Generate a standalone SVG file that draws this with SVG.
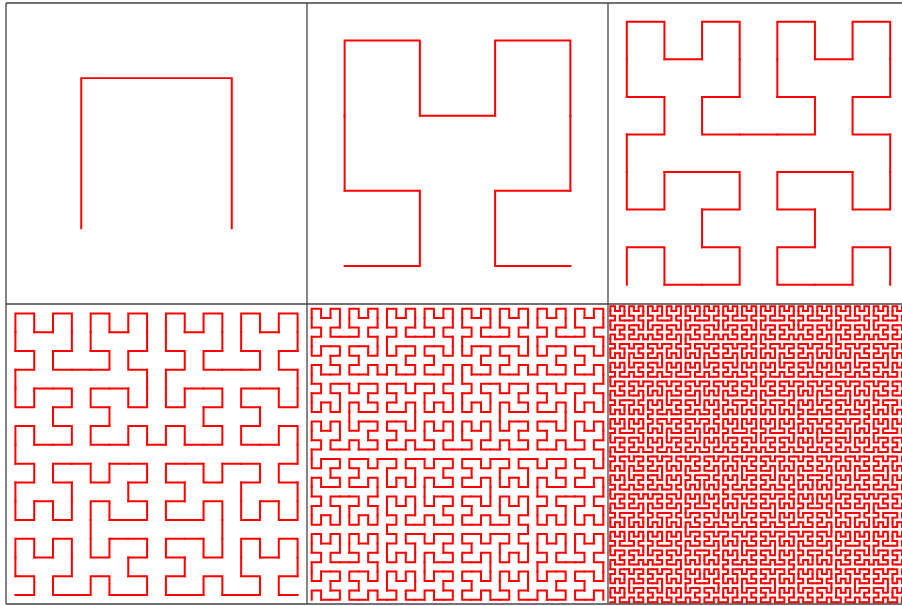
<svg xmlns="http://www.w3.org/2000/svg" xmlns:xlink="http://www.w3.org/1999/xlink" width="902" height="606" viewBox="0 0 902 606">
<style>
.curve{fill:none;stroke:#ff0000;stroke-linecap:square;stroke-linejoin:miter}
.frame{fill:none;stroke:#444444;stroke-width:1.3}
</style>
<defs>
<g id="h1"><path d="M0 1V0H1V1"/></g>
<g id="h2">
<use xlink:href="#h1" href="#h1" transform="matrix(0,-1,-1,0,1,3)"/>
<use xlink:href="#h1" href="#h1"/>
<use xlink:href="#h1" href="#h1" transform="translate(2,0)"/>
<use xlink:href="#h1" href="#h1" transform="matrix(0,1,1,0,2,2)"/>
<path d="M0 2V1M1 1H2M3 1V2"/>
</g>
<g id="h3">
<use xlink:href="#h2" href="#h2" transform="matrix(0,-1,-1,0,3,7)"/>
<use xlink:href="#h2" href="#h2"/>
<use xlink:href="#h2" href="#h2" transform="translate(4,0)"/>
<use xlink:href="#h2" href="#h2" transform="matrix(0,1,1,0,4,4)"/>
<path d="M0 4V3M3 3H4M7 3V4"/>
</g>
<g id="h4">
<use xlink:href="#h3" href="#h3" transform="matrix(0,-1,-1,0,7,15)"/>
<use xlink:href="#h3" href="#h3"/>
<use xlink:href="#h3" href="#h3" transform="translate(8,0)"/>
<use xlink:href="#h3" href="#h3" transform="matrix(0,1,1,0,8,8)"/>
<path d="M0 8V7M7 7H8M15 7V8"/>
</g>
<g id="h5">
<use xlink:href="#h4" href="#h4" transform="matrix(0,-1,-1,0,15,31)"/>
<use xlink:href="#h4" href="#h4"/>
<use xlink:href="#h4" href="#h4" transform="translate(16,0)"/>
<use xlink:href="#h4" href="#h4" transform="matrix(0,1,1,0,16,16)"/>
<path d="M0 16V15M15 15H16M31 15V16"/>
</g>
<g id="h6">
<use xlink:href="#h5" href="#h5" transform="matrix(0,-1,-1,0,31,63)"/>
<use xlink:href="#h5" href="#h5"/>
<use xlink:href="#h5" href="#h5" transform="translate(32,0)"/>
<use xlink:href="#h5" href="#h5" transform="matrix(0,1,1,0,32,32)"/>
<path d="M0 32V31M31 31H32M63 31V32"/>
</g>
</defs>
<rect width="902" height="606" fill="#ffffff"/>
<g id="panel-order1" class="curve" stroke-width="0.01329">
<use xlink:href="#h1" href="#h1" transform="translate(81.25,78.125) scale(150.5,150.25)"/>
</g>
<g id="panel-order2" class="curve" stroke-width="0.02658">
<use xlink:href="#h2" href="#h2" transform="translate(344.625,40.5625) scale(75.25,75.125)"/>
</g>
<g id="panel-order3" class="curve" stroke-width="0.05316">
<use xlink:href="#h3" href="#h3" transform="translate(626.8125,21.78125) scale(37.625,37.5625)"/>
</g>
<g id="panel-order4" class="curve" stroke-width="0.10631">
<use xlink:href="#h4" href="#h4" transform="translate(15.40625,313.4) scale(18.8125,18.78)"/>
</g>
<g id="panel-order5" class="curve" stroke-width="0.21262">
<use xlink:href="#h5" href="#h5" transform="translate(311.703125,308.7) scale(9.40625,9.39)"/>
</g>
<g id="panel-order6" class="curve" stroke-width="0.42525">
<use xlink:href="#h6" href="#h6" transform="translate(610.3515625,306.35) scale(4.703125,4.695)"/>
</g>
<g id="frame" class="frame">
<path d="M6 3H902M6 304H902M6 604H902M6 3V604M307 3V604M608 3V604"/>
</g>
</svg>
